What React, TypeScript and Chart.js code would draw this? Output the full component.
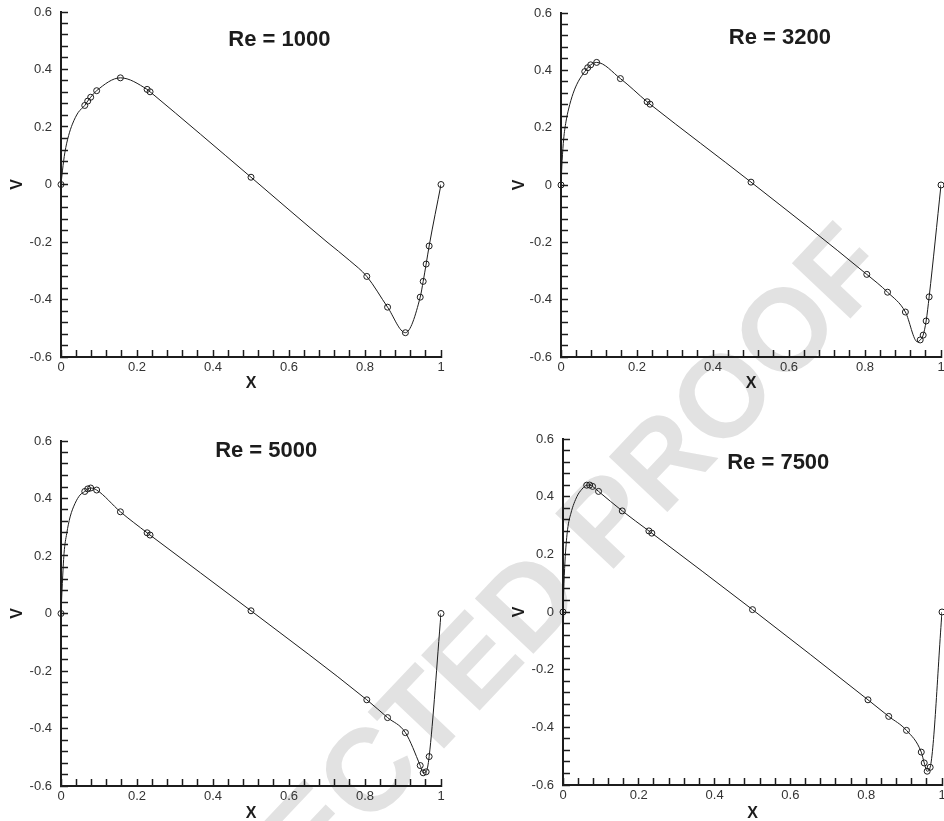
import React, { useEffect, useRef } from 'react';
import { Chart, registerables } from 'chart.js';

Chart.register(...registerables);

// ---- data ----
const xMarkers = [0, 0.0625, 0.0703, 0.0781, 0.0938, 0.1563, 0.2266, 0.2344, 0.5, 0.8047, 0.8594, 0.9063, 0.9453, 0.9531, 0.9609, 0.9688, 1];
const vRe1000 = [0, 0.2749, 0.2901, 0.3035, 0.3263, 0.371, 0.3308, 0.3224, 0.0253, -0.3197, -0.4267, -0.5155, -0.3919, -0.3371, -0.2767, -0.2139, 0];
const vRe3200 = [0, 0.3956, 0.4092, 0.4191, 0.4277, 0.3712, 0.2903, 0.2819, 0.01, -0.3118, -0.374, -0.4431, -0.5405, -0.5236, -0.4743, -0.3902, 0];
const vRe5000 = [0, 0.4245, 0.4333, 0.4365, 0.4295, 0.3537, 0.2807, 0.2728, 0.0095, -0.3002, -0.3621, -0.4144, -0.5288, -0.5541, -0.5507, -0.4977, 0];
const vRe7500 = [0, 0.4398, 0.4403, 0.4356, 0.4182, 0.3506, 0.2812, 0.2735, 0.0082, -0.3045, -0.3621, -0.4105, -0.4859, -0.5235, -0.5522, -0.5386, 0];

// smooth solution curves
const curveX1000 = [0, 0.004, 0.01, 0.02, 0.03, 0.045, 0.0625, 0.0703, 0.0781, 0.0938, 0.1563, 0.2266, 0.2344, 0.5, 0.6, 0.7, 0.76, 0.8047, 0.8594, 0.9063, 0.9453, 0.9531, 0.9609, 0.9688, 1];
const curveV1000 = [0, 0.05, 0.11, 0.17, 0.21, 0.25, 0.2749, 0.2901, 0.3035, 0.3263, 0.371, 0.3308, 0.3224, 0.0253, -0.088, -0.2, -0.265, -0.3197, -0.4267, -0.5155, -0.3919, -0.3371, -0.2767, -0.2139, 0];
const curveX3200 = [0, 0.003, 0.007, 0.013, 0.02, 0.032, 0.045, 0.0625, 0.0703, 0.0781, 0.0938, 0.1563, 0.2266, 0.2344, 0.5, 0.8047, 0.8594, 0.9063, 0.938, 0.9453, 0.9531, 0.9609, 0.9688, 1];
const curveV3200 = [0, 0.085, 0.16, 0.22, 0.265, 0.32, 0.36, 0.3956, 0.4092, 0.4191, 0.4277, 0.3712, 0.2903, 0.2819, 0.01, -0.3118, -0.374, -0.4431, -0.547, -0.5405, -0.5236, -0.4743, -0.3902, 0];
const curveX5000 = [0, 0.0035, 0.008, 0.015, 0.024, 0.037, 0.05, 0.0625, 0.0703, 0.0781, 0.0938, 0.1563, 0.2266, 0.2344, 0.5, 0.8047, 0.8594, 0.9063, 0.9453, 0.9531, 0.9609, 0.9688, 1];
const curveV5000 = [0, 0.104, 0.209, 0.278, 0.336, 0.383, 0.412, 0.4245, 0.4333, 0.4365, 0.4295, 0.3537, 0.2807, 0.2728, 0.0095, -0.3002, -0.3621, -0.4144, -0.5288, -0.5541, -0.5507, -0.4977, 0];
const curveX7500 = [0, 0.0026, 0.006, 0.012, 0.021, 0.037, 0.05, 0.0625, 0.0703, 0.0781, 0.0938, 0.1563, 0.2266, 0.2344, 0.5, 0.8047, 0.8594, 0.9063, 0.9453, 0.9531, 0.9609, 0.9688, 1];
const curveV7500 = [0, 0.1, 0.193, 0.285, 0.343, 0.401, 0.426, 0.4398, 0.4403, 0.4356, 0.4182, 0.3506, 0.2812, 0.2735, 0.0082, -0.3045, -0.3621, -0.4105, -0.4859, -0.5235, -0.5522, -0.5386, 0];

const panelTitles = ['Re = 1000', 'Re = 3200', 'Re = 5000', 'Re = 7500'];
const xMajorTicks = [0, 0.2, 0.4, 0.6, 0.8, 1];
const yMajorTicks = [-0.6, -0.4, -0.2, 0, 0.2, 0.4, 0.6];
const xAxisTitle = 'X';
const yAxisTitle = 'V';
const watermarkText = 'UNCORRECTED PROOF';

// ---- layout / style ----
const FONT = '"Liberation Sans", Arial, Helvetica, sans-serif';
const INK = '#1c1c1c';

type Box = { left: number; top: number; w: number; h: number };
type Plot = { l: number; r: number; t: number; b: number };
type PanelCfg = {
  title: string;
  xs: number[];
  vs: number[];
  cx: number[];
  cv: number[];
  canvas: Box;
  plot: Plot;
  titleAt: { x: number; y: number };
  vTitleX: number;
  xTitleY: number;
};

const panels: PanelCfg[] = [
  {
    title: panelTitles[0], xs: xMarkers, vs: vRe1000, cx: curveX1000, cv: curveV1000,
    canvas: { left: 0, top: 0, w: 472, h: 410 }, plot: { l: 61, r: 441, t: 12, b: 357 },
    titleAt: { x: 0.5745, y: 0.502 }, vTitleX: 18, xTitleY: 383.5,
  },
  {
    title: panelTitles[1], xs: xMarkers, vs: vRe3200, cx: curveX3200, cv: curveV3200,
    canvas: { left: 472, top: 0, w: 480, h: 410 }, plot: { l: 561, r: 941, t: 13, b: 357 },
    titleAt: { x: 0.576, y: 0.513 }, vTitleX: 520, xTitleY: 383.5,
  },
  {
    title: panelTitles[2], xs: xMarkers, vs: vRe5000, cx: curveX5000, cv: curveV5000,
    canvas: { left: 0, top: 410, w: 472, h: 440 }, plot: { l: 61, r: 441, t: 441, b: 786 },
    titleAt: { x: 0.54, y: 0.564 }, vTitleX: 18, xTitleY: 813.5,
  },
  {
    title: panelTitles[3], xs: xMarkers, vs: vRe7500, cx: curveX7500, cv: curveV7500,
    canvas: { left: 472, top: 410, w: 480, h: 440 }, plot: { l: 563, r: 942, t: 439, b: 785 },
    titleAt: { x: 0.568, y: 0.517 }, vTitleX: 520, xTitleY: 813.5,
  },
];

const isMajor = (v: number, majors: number[]) => majors.some((m) => Math.abs(m - v) < 1e-6);
const fmt = (v: number) => {
  const r = Math.round(v * 10) / 10;
  return r === 0 ? '0' : String(r);
};

const titlePlugin = {
  id: 'panelTitle',
  afterDatasetsDraw(chart: any, _args: any, opts: any) {
    const { ctx, scales } = chart;
    const x = scales.x.getPixelForValue(opts.x);
    const y = scales.y.getPixelForValue(opts.y);
    ctx.save();
    ctx.font = `bold 22px ${FONT}`;
    ctx.fillStyle = INK;
    ctx.textAlign = 'center';
    ctx.textBaseline = 'middle';
    ctx.fillText(opts.text, x, y);
    ctx.restore();
  },
};

const AXIS_TITLE_SIZE = 16;
const AXIS_TITLE_HALF = (AXIS_TITLE_SIZE * 1.2) / 2;

function Panel({ cfg }: { cfg: PanelCfg }) {
  const ref = useRef<HTMLCanvasElement>(null);
  useEffect(() => {
    const { canvas, plot } = cfg;
    const padTop = plot.t - canvas.top;
    const padRight = canvas.left + canvas.w - plot.r;
    const yWidth = plot.l - canvas.left;
    const xHeight = canvas.top + canvas.h - plot.b;
    const yTitlePad = cfg.vTitleX - canvas.left - AXIS_TITLE_HALF;
    const xTitlePad = canvas.top + canvas.h - cfg.xTitleY - AXIS_TITLE_HALF;

    const tickFont = { family: FONT, size: 13 };
    const grid = {
      drawOnChartArea: false,
      drawTicks: true,
      tickLength: -7,
      tickColor: INK,
      tickWidth: 1.5,
    };
    const border = { display: true, color: INK, width: 2 };
    const noPad = (s: any) => {
      s.paddingTop = 0;
      s.paddingBottom = 0;
      s.paddingLeft = 0;
      s.paddingRight = 0;
    };

    const chart = new Chart(ref.current as HTMLCanvasElement, {
      type: 'scatter',
      data: {
        datasets: [
          {
            type: 'line',
            data: cfg.cx.map((x, i) => ({ x, y: cfg.cv[i] })),
            borderColor: INK,
            borderWidth: 1,
            pointRadius: 0,
            cubicInterpolationMode: 'monotone',
            fill: false,
          } as any,
          {
            type: 'scatter',
            data: cfg.xs.map((x, i) => ({ x, y: cfg.vs[i] })),
            pointRadius: 3,
            pointBorderWidth: 1,
            pointBorderColor: INK,
            pointBackgroundColor: 'rgba(255,255,255,0)',
            showLine: false,
            clip: false,
          } as any,
        ],
      },
      options: {
        animation: false,
        responsive: false,
        devicePixelRatio: 1,
        events: [],
        layout: { padding: { left: 0, top: padTop, right: padRight, bottom: 0 } },
        plugins: {
          legend: { display: false },
          tooltip: { enabled: false },
          panelTitle: { text: cfg.title, x: cfg.titleAt.x, y: cfg.titleAt.y },
        } as any,
        scales: {
          x: {
            type: 'linear',
            min: 0,
            max: 1,
            afterFit: (s: any) => {
              s.height = xHeight;
              noPad(s);
            },
            ticks: {
              stepSize: 0.04,
              autoSkip: false,
              maxRotation: 0,
              padding: 10,
              color: '#333',
              font: tickFont,
              callback: (v: any) => (isMajor(Number(v), xMajorTicks) ? fmt(Number(v)) : ''),
            },
            grid,
            border,
            title: {
              display: true,
              text: xAxisTitle,
              color: INK,
              font: { family: FONT, size: AXIS_TITLE_SIZE, weight: 'bold' },
              padding: { top: 0, bottom: xTitlePad },
            },
          },
          y: {
            type: 'linear',
            min: -0.6,
            max: 0.6,
            afterFit: (s: any) => {
              s.width = yWidth;
              noPad(s);
            },
            ticks: {
              stepSize: 0.04,
              autoSkip: false,
              padding: 16,
              color: '#333',
              font: tickFont,
              callback: (v: any) => (isMajor(Number(v), yMajorTicks) ? fmt(Number(v)) : ''),
            },
            grid,
            border,
            title: {
              display: true,
              text: yAxisTitle,
              color: INK,
              font: { family: FONT, size: AXIS_TITLE_SIZE, weight: 'bold' },
              padding: { top: yTitlePad, bottom: 0 },
            },
          },
        },
      } as any,
      plugins: [titlePlugin as any],
    });
    return () => chart.destroy();
  }, [cfg]);

  return (
    <canvas
      ref={ref}
      width={cfg.canvas.w}
      height={cfg.canvas.h}
      style={{
        position: 'absolute',
        left: cfg.canvas.left,
        top: cfg.canvas.top,
        width: cfg.canvas.w,
        height: cfg.canvas.h,
      }}
    />
  );
}

export default function App() {
  return (
    <div
      style={{
        position: 'absolute',
        left: 0,
        top: 0,
        width: 944,
        height: 821,
        overflow: 'hidden',
        background: '#ffffff',
      }}
    >
      <div
        style={{
          position: 'absolute',
          left: 398,
          top: 738,
          transform: 'translate(-50%, -50%) rotate(-46.6deg)',
          whiteSpace: 'nowrap',
          fontFamily: FONT,
          fontWeight: 'bold',
          fontSize: 117,
          lineHeight: 1,
          color: '#e2e2e2',
          userSelect: 'none',
        }}
      >
        {watermarkText}
      </div>
      {panels.map((p) => (
        <Panel key={p.title} cfg={p} />
      ))}
    </div>
  );
}
